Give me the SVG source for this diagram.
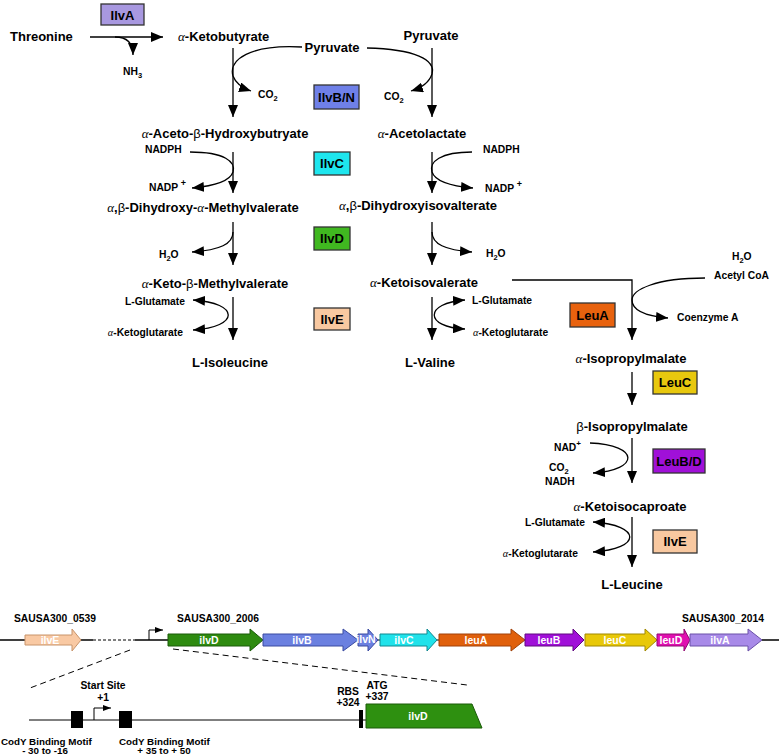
<svg xmlns="http://www.w3.org/2000/svg" width="779" height="755" viewBox="0 0 779 755">
<style>
.c{font-family:"Liberation Sans",Arial,sans-serif;font-weight:bold;font-size:13px;fill:#000}
.s{font-family:"Liberation Sans",Arial,sans-serif;font-weight:bold;font-size:10.3px;fill:#000}
.g{font-family:"Liberation Serif","Times New Roman",serif;font-style:italic;font-weight:normal}
.b{font-weight:normal}
.sub{font-size:7.5px}
.ln{fill:none;stroke:#000;stroke-width:1.3}
.box{stroke:#333;stroke-width:1.3}
.et{font-family:"Liberation Sans",Arial,sans-serif;font-weight:bold;font-size:13px;fill:#000;text-anchor:middle}
.gene{stroke-width:1}
.gt{font-family:"Liberation Sans",Arial,sans-serif;font-weight:bold;font-size:10.5px;fill:#fff;text-anchor:middle}
.dash{fill:none;stroke:#000;stroke-width:1;stroke-dasharray:6 4}
.mid{text-anchor:middle}
.end{text-anchor:end}
.cy{font-family:"Liberation Sans",Arial,sans-serif;font-weight:bold;font-size:9.8px;fill:#000}
</style>
<defs>
<marker id="ah" viewBox="0 0 12 10" refX="12" refY="5" markerWidth="12" markerHeight="10" markerUnits="userSpaceOnUse" orient="auto-start-reverse"><path d="M0,0 L12,5 L0,10 z" fill="#000"/></marker>
<marker id="sm" viewBox="0 0 8 6" refX="8" refY="3" markerWidth="8" markerHeight="6" markerUnits="userSpaceOnUse" orient="auto"><path d="M0,0 L8,3 L0,6 z" fill="#000"/></marker>
</defs>

<g id="connectors">
<path class="ln" d="M90,37 L163,37" marker-end="url(#ah)"/>
<path class="ln" d="M115,37 C128,37 133,44 133,55" marker-end="url(#ah)"/>
<path class="ln" d="M233,48 L233,117" marker-end="url(#ah)"/>
<path class="ln" d="M302,47 C250,44 228,60 233,76 C236,84 242,88 251,91" marker-end="url(#ah)"/>
<path class="ln" d="M367,48 C415,49 436,60 432,74 C429,83 421,88 411,91" marker-end="url(#ah)"/>
<path class="ln" d="M432,48 L432,117" marker-end="url(#ah)"/>
<path class="ln" d="M233,152 L233,193" marker-end="url(#ah)"/>
<path class="ln" d="M190,152 C225,152 236,162 233,172 C230,181 214,186 192,188" marker-end="url(#ah)"/>
<path class="ln" d="M432,152 L432,193" marker-end="url(#ah)"/>
<path class="ln" d="M472,152 C440,152 429,162 432,172 C435,181 450,186 473,188" marker-end="url(#ah)"/>
<path class="ln" d="M233,222 L233,265" marker-end="url(#ah)"/>
<path class="ln" d="M233,232 C233,244 220,250 192,252" marker-end="url(#ah)"/>
<path class="ln" d="M432,222 L432,265" marker-end="url(#ah)"/>
<path class="ln" d="M432,232 C432,244 445,250 472,252" marker-end="url(#ah)"/>
<path class="ln" d="M233,297 L233,340" marker-end="url(#ah)"/>
<path class="ln" d="M193,300 C240,303 240,327 193,330" marker-start="url(#ah)" marker-end="url(#ah)"/>
<path class="ln" d="M432,297 L432,340" marker-end="url(#ah)"/>
<path class="ln" d="M465,300 C424,303 424,327 465,329" marker-start="url(#ah)" marker-end="url(#ah)"/>
<path class="ln" d="M512,280 L632,280 L632,340" marker-end="url(#ah)"/>
<path class="ln" d="M705,278 C655,278 632,290 632,300 C632,310 645,316 668,318" marker-end="url(#ah)"/>
<path class="ln" d="M632,372 L632,405" marker-end="url(#ah)"/>
<path class="ln" d="M632,438 L632,483" marker-end="url(#ah)"/>
<path class="ln" d="M590,443 C640,445 640,470 593,473" marker-end="url(#ah)"/>
<path class="ln" d="M632,517 L632,567" marker-end="url(#ah)"/>
<path class="ln" d="M593,522 C642,525 642,549 593,552" marker-start="url(#ah)" marker-end="url(#ah)"/>
</g>

<g id="compounds">
<g id="threonine"><text class="c" x="10" y="41">Threonine</text></g>
<g id="ketobutyrate"><text class="c" x="178" y="41"><tspan class="g">α</tspan>-Ketobutyrate</text></g>
<g id="pyruvate1"><text class="c mid" x="332" y="52">Pyruvate</text></g>
<g id="pyruvate2"><text class="c mid" x="431" y="40">Pyruvate</text></g>
<g id="nh3"><text class="s" x="123" y="75">NH<tspan class="sub" dy="3">3</tspan></text></g>
<g id="co2a"><text class="s" x="258" y="98">CO<tspan class="sub" dy="3">2</tspan></text></g>
<g id="co2b"><text class="s" x="384" y="100">CO<tspan class="sub" dy="3">2</tspan></text></g>
<g id="acetohb"><text class="c mid" x="225" y="138"><tspan class="g">α</tspan>-Aceto-<tspan class="b">β</tspan>-Hydroxybutryate</text></g>
<g id="acetolactate"><text class="c mid" x="422" y="138"><tspan class="g">α</tspan>-Acetolactate</text></g>
<g id="nadph1"><text class="s" x="145" y="153">NADPH</text></g>
<g id="nadp1"><text class="s" x="149" y="191">NADP <tspan dy="-5" font-size="9">+</tspan></text></g>
<g id="nadph2"><text class="s" x="483" y="153">NADPH</text></g>
<g id="nadp2"><text class="s" x="485" y="192">NADP <tspan dy="-5" font-size="9">+</tspan></text></g>
<g id="dhmv"><text class="c mid" x="203" y="212"><tspan class="g">α</tspan>,<tspan class="b">β</tspan>-Dihydroxy-<tspan class="g">α</tspan>-Methylvalerate</text></g>
<g id="dhiv"><text class="c mid" x="418" y="210"><tspan class="g">α</tspan>,<tspan class="b">β</tspan>-Dihydroxyisovalterate</text></g>
<g id="h2o1"><text class="s" x="159" y="258">H<tspan class="sub" dy="3">2</tspan><tspan dy="-3">O</tspan></text></g>
<g id="h2o2"><text class="s" x="486" y="257">H<tspan class="sub" dy="3">2</tspan><tspan dy="-3">O</tspan></text></g>
<g id="kmv"><text class="c mid" x="215" y="288"><tspan class="g">α</tspan>-Keto-<tspan class="b">β</tspan>-Methylvalerate</text></g>
<g id="kiv"><text class="c mid" x="424" y="287"><tspan class="g">α</tspan>-Ketoisovalerate</text></g>
<g id="glu1"><text class="s end" x="185" y="305">L-Glutamate</text></g>
<g id="akg1"><text class="s end" x="183" y="336"><tspan class="g">α</tspan>-Ketoglutarate</text></g>
<g id="glu2"><text class="s" x="472" y="304">L-Glutamate</text></g>
<g id="akg2"><text class="s" x="473" y="336"><tspan class="g">α</tspan>-Ketoglutarate</text></g>
<g id="isoleucine"><text class="c mid" x="230" y="367">L-Isoleucine</text></g>
<g id="valine"><text class="c mid" x="430" y="367">L-Valine</text></g>
<g id="h2o3"><text class="s" x="732" y="260">H<tspan class="sub" dy="3">2</tspan><tspan dy="-3">O</tspan></text></g>
<g id="acetylcoa"><text class="s" x="714" y="279">Acetyl CoA</text></g>
<g id="coa"><text class="s" x="677" y="321">Coenzyme A</text></g>
<g id="aipm"><text class="c mid" x="631" y="363"><tspan class="g">α</tspan>-Isopropylmalate</text></g>
<g id="bipm"><text class="c mid" x="632" y="431"><tspan class="b">β</tspan>-Isopropylmalate</text></g>
<g id="nad"><text class="s" x="554" y="451">NAD<tspan dy="-5" font-size="8">+</tspan></text></g>
<g id="co2c"><text class="s" x="549" y="471">CO<tspan class="sub" dy="3">2</tspan></text></g>
<g id="nadh"><text class="s" x="545" y="485">NADH</text></g>
<g id="kic"><text class="c mid" x="630" y="511"><tspan class="g">α</tspan>-Ketoisocaproate</text></g>
<g id="glu3"><text class="s end" x="585" y="526">L-Glutamate</text></g>
<g id="akg3"><text class="s end" x="578" y="557"><tspan class="g">α</tspan>-Ketoglutarate</text></g>
<g id="leucine"><text class="c mid" x="632" y="589">L-Leucine</text></g>
</g>

<g id="enzymes">
<g id="e-ilvA"><rect class="box" x="101" y="4" width="43" height="21" fill="#a898e0"/><text class="et" x="122.5" y="19.5">IlvA</text></g>
<g id="e-ilvBN"><rect class="box" x="314" y="85" width="45" height="24" fill="#6f80e8"/><text class="et" x="336.5" y="102">IlvB/N</text></g>
<g id="e-ilvC"><rect class="box" x="314" y="152" width="36" height="23" fill="#1ee6ee"/><text class="et" x="332" y="168">IlvC</text></g>
<g id="e-ilvD"><rect class="box" x="314" y="227" width="36" height="23" fill="#40b820"/><text class="et" x="332" y="243">IlvD</text></g>
<g id="e-ilvE1"><rect class="box" x="314" y="308" width="36" height="22" fill="#f8c8a0"/><text class="et" x="332" y="323.5">IlvE</text></g>
<g id="e-leuA"><rect class="box" x="570" y="303" width="45" height="24" fill="#e8620e"/><text class="et" x="592.5" y="320">LeuA</text></g>
<g id="e-leuC"><rect class="box" x="653" y="371" width="44" height="23" fill="#e8c80e"/><text class="et" x="675" y="387">LeuC</text></g>
<g id="e-leuBD"><rect class="box" x="653" y="449" width="52" height="24" fill="#a010d8"/><text class="et" x="679" y="466">LeuB/D</text></g>
<g id="e-ilvE2"><rect class="box" x="653" y="530" width="44" height="23" fill="#f8c8a0"/><text class="et" x="675" y="546">IlvE</text></g>
</g>

<g id="operon">
<text class="s" x="14" y="622" font-size="10">SAUSA300_0539</text>
<text class="s" x="177" y="622" font-size="10">SAUSA300_2006</text>
<text class="s" x="682" y="622" font-size="10">SAUSA300_2014</text>
<path class="ln" d="M0,640 L25,640 M81,640 L93,640 M135,640 L168,640 M762,640 L779,640" stroke-width="1"/>
<path d="M93,640 L135,640" fill="none" stroke="#000" stroke-width="1" stroke-dasharray="3 2"/>
<path d="M149,640 L149,630 L163,630" fill="none" stroke="#000" stroke-width="1" marker-end="url(#sm)"/>
<g id="g-ilvE"><path class="gene" d="M25,635 L72,635 L72,629 L81,640 L72,651 L72,645 L25,645 z" fill="#f9c9a3" stroke="#c8946a"/><text class="gt" x="50" y="644">ilvE</text></g>
<g id="g-ilvD"><path class="gene" d="M168,634 L250,634 L250,629 L263,640 L250,651 L250,646 L168,646 z" fill="#2e8b10" stroke="#1a5a08"/><text class="gt" x="209" y="644">ilvD</text></g>
<g id="g-ilvB"><path class="gene" d="M263,634 L343,634 L343,629 L358,640 L343,651 L343,646 L263,646 z" fill="#6b80e0" stroke="#3a4aa0"/><text class="gt" x="302" y="644">ilvB</text></g>
<g id="g-ilvN"><path class="gene" d="M358,634 L368,634 L368,629 L378,640 L368,651 L368,646 L358,646 z" fill="#6b80e0" stroke="#3a4aa0"/><text class="gt" x="366" y="642.5" font-size="6.5">ilvN</text></g>
<path d="M378,640 L380,640 M437,640 L439,640" stroke="#000" stroke-width="1"/>
<g id="g-ilvC"><path class="gene" d="M380,634 L427,634 L427,629 L437,640 L427,651 L427,646 L380,646 z" fill="#20e2ea" stroke="#108890"/><text class="gt" x="404" y="644">ilvC</text></g>
<g id="g-leuA"><path class="gene" d="M439,634 L511,634 L511,629 L525,640 L511,651 L511,646 L439,646 z" fill="#e0600c" stroke="#a04008"/><text class="gt" x="476" y="644">leuA</text></g>
<g id="g-leuB"><path class="gene" d="M525,634 L573,634 L573,629 L584,640 L573,651 L573,646 L525,646 z" fill="#a010d8" stroke="#600880"/><text class="gt" x="549" y="644">leuB</text></g>
<g id="g-leuC"><path class="gene" d="M585,634 L645,634 L645,629 L657,640 L645,651 L645,646 L585,646 z" fill="#e8c808" stroke="#a08800"/><text class="gt" x="615" y="644">leuC</text></g>
<g id="g-leuD"><path class="gene" d="M657,634 L684,634 L684,629 L690,640 L684,651 L684,646 L657,646 z" fill="#e010b0" stroke="#900870"/><text class="gt" x="671" y="644">leuD</text></g>
<g id="g-ilvA"><path class="gene" d="M690,634 L748,634 L748,629 L762,640 L748,651 L748,646 L690,646 z" fill="#a88ae8" stroke="#6a50a8"/><text class="gt" x="720" y="644">ilvA</text></g>
<path class="dash" d="M130,650 L30,688"/>
<path class="dash" d="M173,649 L467,685"/>
</g>

<g id="promoter">
<path d="M29,720 L366,720" stroke="#000" stroke-width="1"/>
<rect x="71" y="711" width="12" height="17" fill="#000"/>
<rect x="119" y="711" width="13" height="17" fill="#000"/>
<path d="M94,720 L94,708 L111,708" fill="none" stroke="#000" stroke-width="1" marker-end="url(#sm)"/>
<rect x="359" y="710" width="4" height="18" fill="#000"/>
<g id="g-ilvD2"><path d="M366,704 L472,704 L482,728 L366,728 z" fill="#2e9010" stroke="#1a5a08" stroke-width="1"/><text class="gt" x="418" y="720">ilvD</text></g>
<text class="s mid" x="103" y="689">Start Site</text>
<text class="s mid" x="103" y="701">+1</text>
<text class="cy" x="1" y="744.5">CodY Binding Motif</text>
<text class="cy mid" x="45" y="754">- 30 to -16</text>
<text class="cy" x="119" y="744.5">CodY Binding Motif</text>
<text class="cy mid" x="164" y="754">+ 35 to + 50</text>
<text class="s mid" x="348" y="695">RBS</text>
<text class="s mid" x="348" y="706">+324</text>
<text class="s mid" x="377" y="689">ATG</text>
<text class="s mid" x="377" y="700">+337</text>
</g>
</svg>
